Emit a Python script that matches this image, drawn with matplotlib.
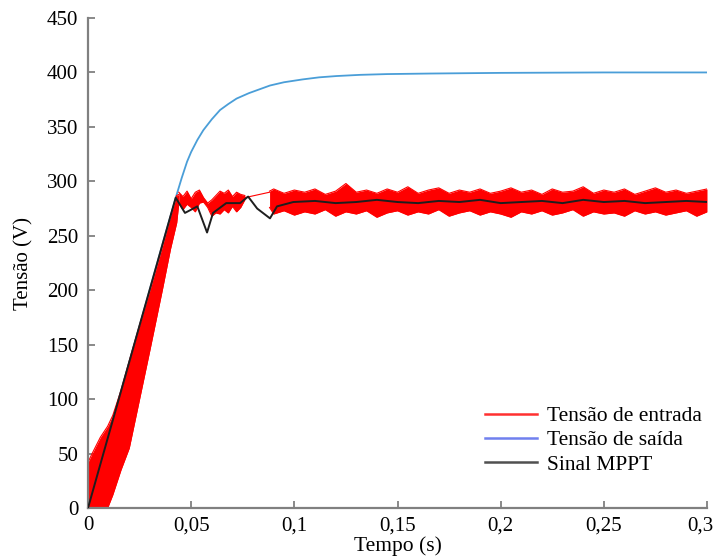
import matplotlib
matplotlib.use("Agg")
import matplotlib.pyplot as plt
import matplotlib.transforms as mtransforms
from matplotlib.lines import Line2D

plt.rcParams['font.family'] = ['Liberation Serif', 'DejaVu Serif']

# ---- Tensão de saída (blue) ----
t_out = [0, 0.010, 0.020, 0.030, 0.038, 0.043, 0.0454, 0.048, 0.050, 0.053, 0.0559,
         0.060, 0.064, 0.068, 0.072, 0.078, 0.0882, 0.095, 0.104, 0.112, 0.1205,
         0.132, 0.145, 0.166, 0.200, 0.250, 0.300]
v_out = [0, 67, 134, 201, 255, 288, 303, 318, 327, 338, 347,
         357, 365.5, 371, 376, 381, 388, 391, 393.6, 395.5, 396.7,
         397.8, 398.5, 399, 399.6, 400, 400]

# ---- Tensão de entrada (red) envelope ----
t_in_ramp = [0, 0.002, 0.006, 0.0095, 0.012, 0.016, 0.020, 0.025, 0.030, 0.036, 0.040, 0.043, 0.044]
in_ramp_hi = [42, 50, 65, 75, 85, 108, 135, 168, 200, 240, 268, 287, 288]
in_ramp_lo = [0, 0, 0, 0, 12, 35, 55, 100, 145, 200, 238, 262, 280]

t_in_a = [0.044, 0.046, 0.048, 0.050, 0.052, 0.054, 0.056, 0.058, 0.060, 0.062,
          0.064, 0.066, 0.068, 0.070, 0.072, 0.074, 0.076]
in_a_hi = [290, 286, 291, 284, 290, 292, 285, 280, 283, 287, 291, 289, 292, 286, 290, 288, 287]
in_a_lo = [280, 274, 279, 276, 272, 280, 281, 276, 268, 271, 270, 274, 271, 277, 272, 276, 283]

t_in_gap = [0.076, 0.088]
in_gap = [285, 290]

t_in_b = [0.088, 0.090, 0.095, 0.100, 0.105, 0.110, 0.115, 0.120, 0.125, 0.130, 0.135,
          0.140, 0.145, 0.150, 0.155, 0.160, 0.165, 0.170, 0.175, 0.180, 0.185, 0.190,
          0.195, 0.200, 0.205, 0.210, 0.215, 0.220, 0.225, 0.230, 0.235, 0.240, 0.245,
          0.250, 0.255, 0.260, 0.265, 0.270, 0.275, 0.280, 0.285, 0.290, 0.295, 0.300]
in_b_hi = [291, 293, 289, 292, 290, 293, 288, 291, 298, 290, 292, 289, 293, 290, 295,
           289, 292, 294, 289, 292, 290, 293, 289, 291, 294, 290, 292, 288, 293, 290,
           291, 295, 289, 292, 290, 293, 288, 291, 294, 290, 292, 289, 291, 293]
in_b_lo = [276, 270, 273, 269, 272, 270, 274, 268, 272, 270, 273, 267, 271, 273, 269,
           272, 270, 274, 268, 271, 273, 269, 272, 270, 267, 272, 270, 273, 269, 271,
           274, 268, 272, 270, 271, 268, 273, 270, 272, 269, 271, 273, 268, 272]

# ---- Sinal MPPT (black) ----
t_mppt = [0, 0.0425, 0.047, 0.053, 0.0577, 0.0606, 0.067, 0.0737, 0.0776, 0.082,
          0.0882, 0.0916, 0.0995, 0.110, 0.120, 0.130, 0.140, 0.150, 0.160, 0.170,
          0.180, 0.190, 0.200, 0.210, 0.220, 0.230, 0.240, 0.250, 0.260, 0.270,
          0.280, 0.290, 0.300]
v_mppt = [0, 285, 271, 277, 253, 271, 280, 280, 286, 275,
          266, 277, 281, 282, 280, 281, 283, 281, 280, 282,
          281, 283, 280, 281, 282, 280, 283, 281, 282, 280,
          281, 282, 281]

x_ticks = [0, 0.05, 0.1, 0.15, 0.2, 0.25, 0.3]
x_tick_labels = ["0", "0,05", "0,1", "0,15", "0,2", "0,25", "0,3"]
y_ticks = [0, 50, 100, 150, 200, 250, 300, 350, 400, 450]
legend_labels = ["Tensão de entrada", "Tensão de saída", "Sinal MPPT"]

fig = plt.figure(figsize=(7.16, 5.6), dpi=100)
AX_L, AX_R, AX_B, AX_T = 88, 707, 508, 18
ax = fig.add_axes([AX_L/716, (560-AX_B)/560, (AX_R-AX_L)/716, (AX_B-AX_T)/560])

RED = "#ff0000"
BLUE = "#4a9ed8"
BLACK = "#1e1e1e"

ax.plot(t_out, v_out, color=BLUE, lw=1.3, zorder=1)
for tt, hi, lo in [(t_in_ramp, in_ramp_hi, in_ramp_lo), (t_in_a, in_a_hi, in_a_lo), (t_in_b, in_b_hi, in_b_lo)]:
    ax.fill_between(tt, lo, hi, color=RED, lw=0, zorder=2)
    ax.plot(tt, hi, color=RED, lw=0.8, zorder=2)
    ax.plot(tt, lo, color=RED, lw=0.8, zorder=2)
ax.plot(t_in_gap, in_gap, color=RED, lw=0.8, zorder=2)
ax.plot(t_mppt, v_mppt, color=BLACK, lw=1.4, zorder=3)

ax.set_xlim(0, 0.3)
ax.set_ylim(0, 450)
ax.set_xticks(x_ticks)
ax.set_xticklabels(x_tick_labels)
ax.set_yticks(y_ticks)

for s in ["top", "right"]:
    ax.spines[s].set_visible(False)
for s in ["left", "bottom"]:
    ax.spines[s].set_color("#808080")
    ax.spines[s].set_linewidth(1.6)
ax.tick_params(direction="in", length=5, width=1.3, color="#808080",
               labelsize=15, pad=7)
ax.tick_params(axis="x", pad=6)

# keep the last x tick label inside the figure
last = ax.get_xticklabels()[-1]
last.set_transform(last.get_transform() +
                   mtransforms.ScaledTranslation(-7/100, 0, fig.dpi_scale_trans))

ax.set_xlabel("Tempo (s)", fontsize=15.5, labelpad=1)
ax.set_ylabel("Tensão (V)", fontsize=15, labelpad=10)

handles = [Line2D([], [], color="#ff3030", lw=1.8),
           Line2D([], [], color="#7080ee", lw=1.8),
           Line2D([], [], color="#505050", lw=1.8)]
ax.legend(handles, legend_labels, loc="upper left",
          bbox_to_anchor=((485-AX_L)/(AX_B-AX_T) * (AX_B-AX_T)/(AX_R-AX_L), (AX_B-406)/(AX_B-AX_T)),
          frameon=False, fontsize=15.5, handlelength=2.4, handletextpad=0.5,
          labelspacing=0.2, borderaxespad=0, borderpad=0)

fig.savefig("out.png", dpi=100)
